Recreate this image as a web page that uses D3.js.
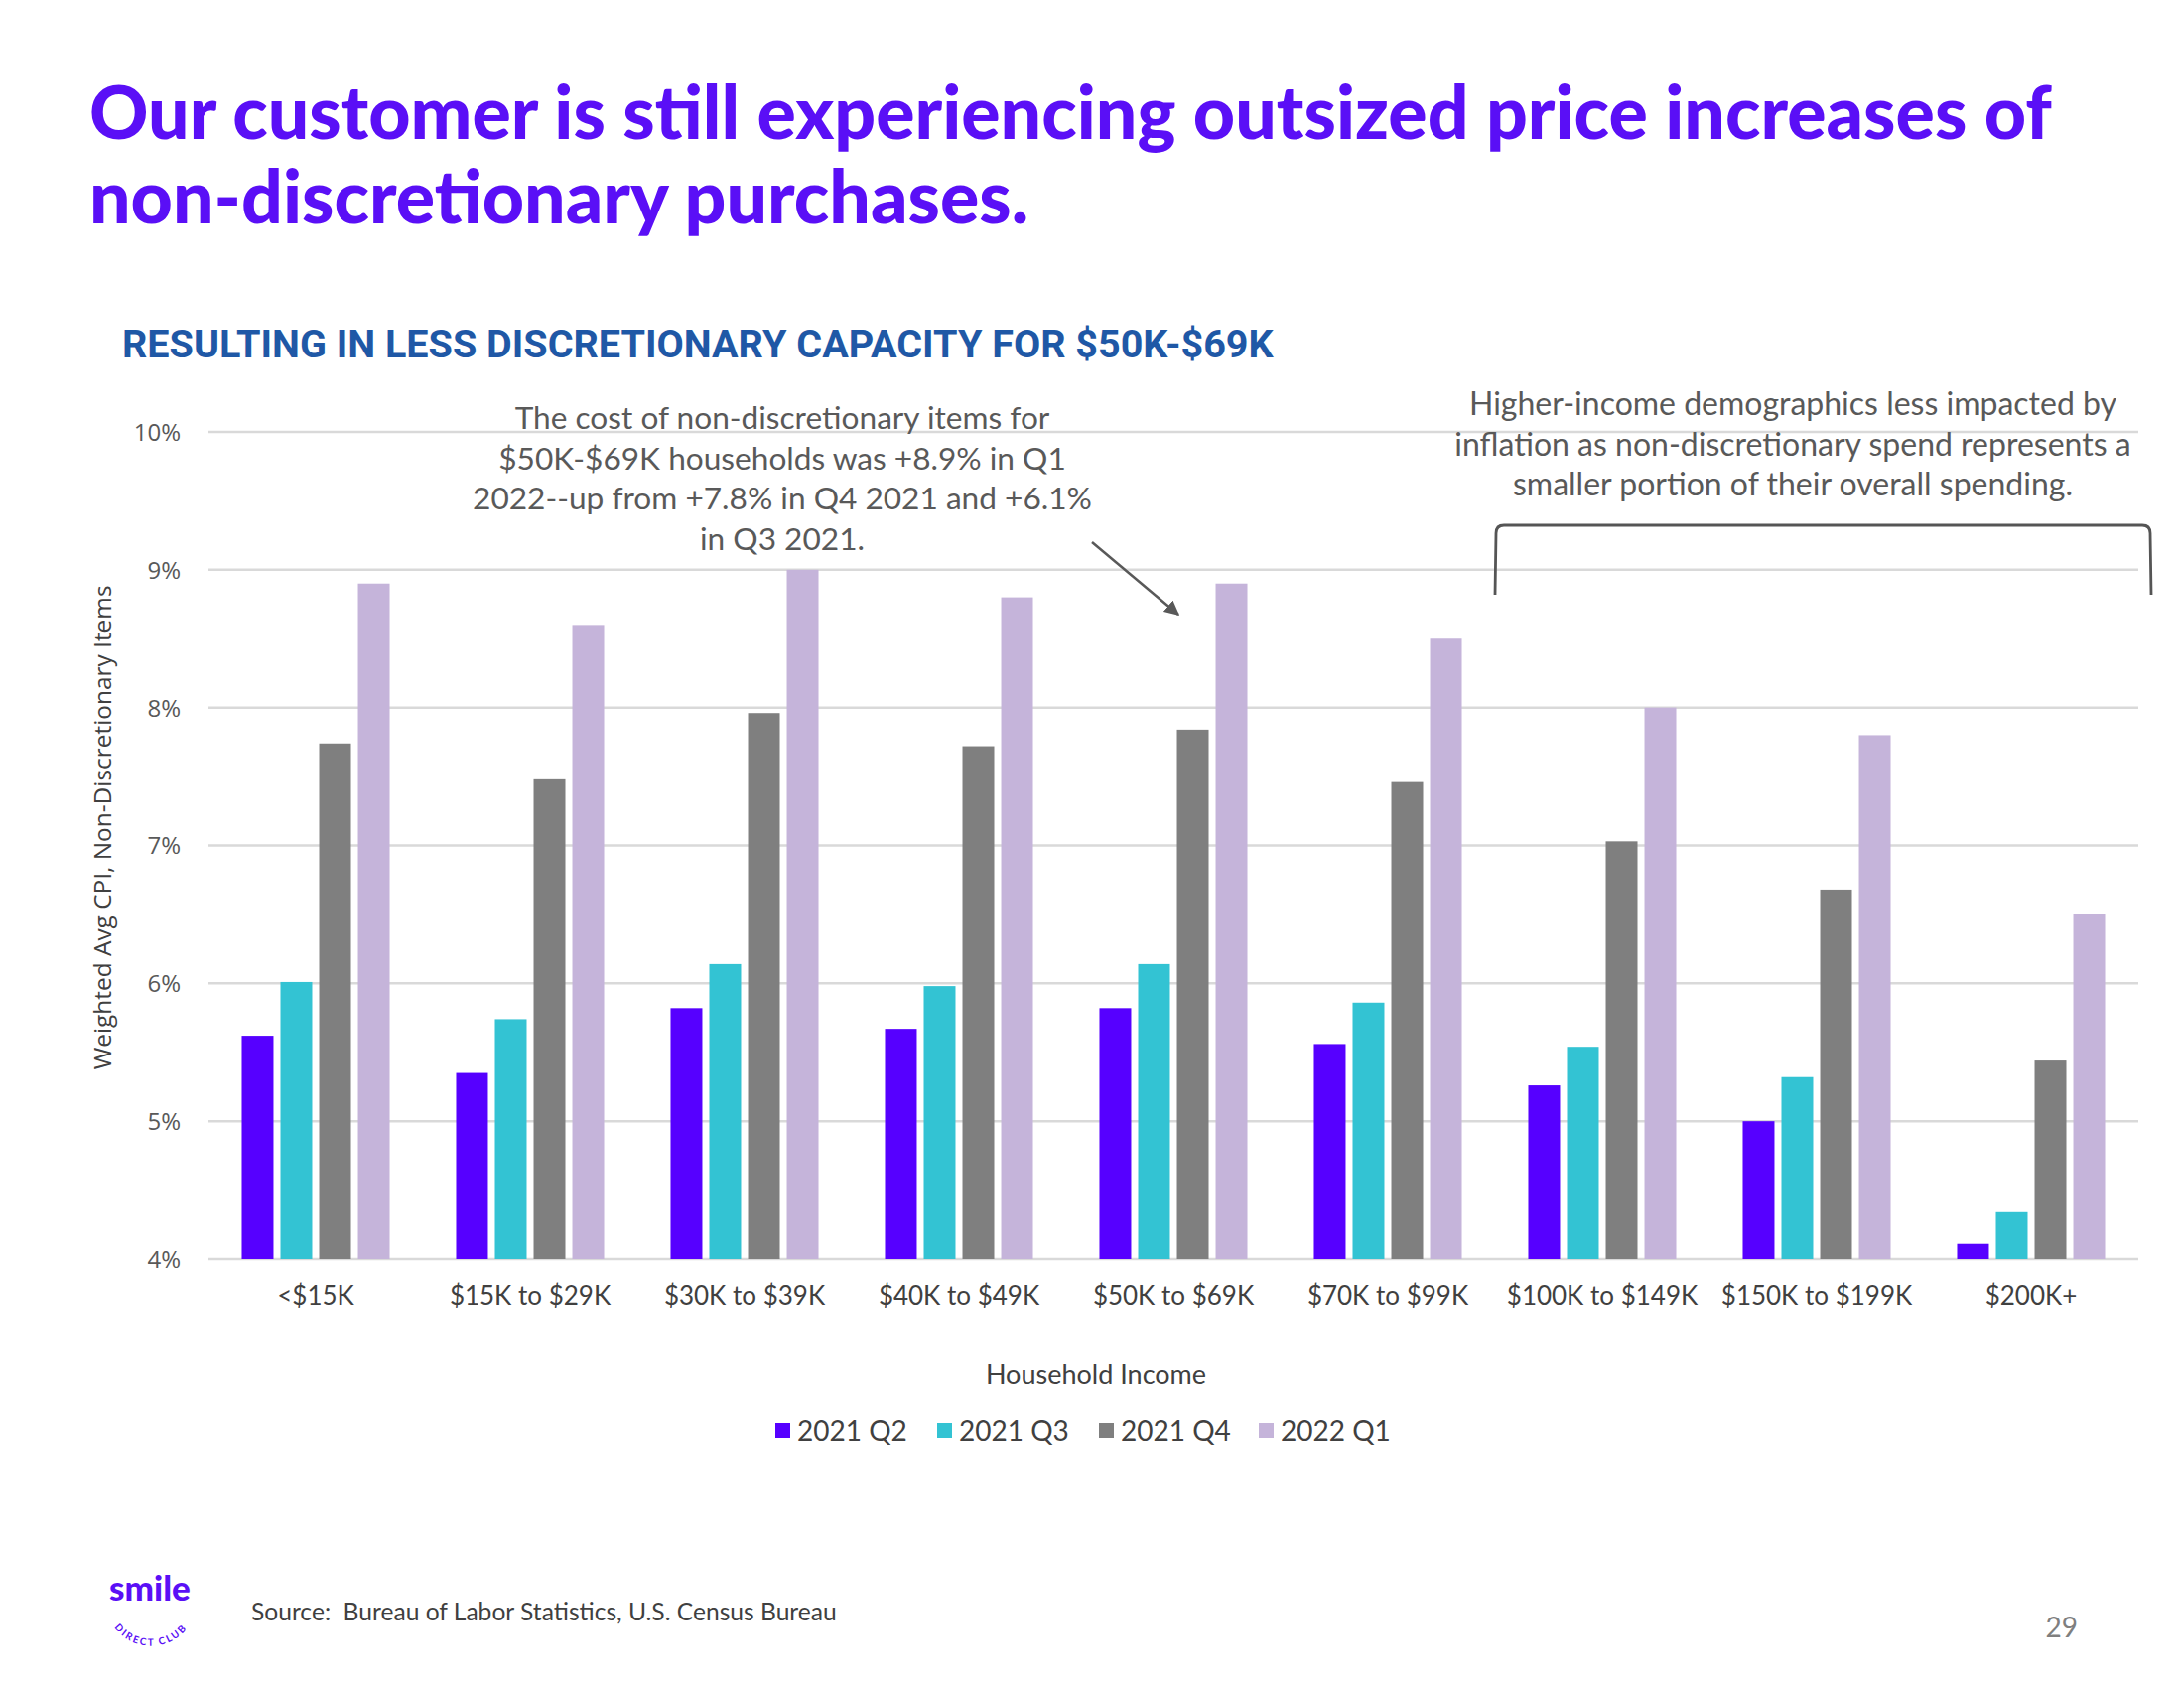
<!DOCTYPE html>
<html>
<head>
<meta charset="utf-8">
<script src="https://cdn.jsdelivr.net/npm/d3@7"></script>
<style>
  html, body { margin: 0; padding: 0; background: #ffffff; }
  svg { display: block; }
</style>
</head>
<body>
<svg id="chart" width="2200" height="1700"></svg>
<script>
// ---------- data ----------
const categories = ["<$15K", "$15K to $29K", "$30K to $39K", "$40K to $49K", "$50K to $69K",
                    "$70K to $99K", "$100K to $149K", "$150K to $199K", "$200K+"];
const seriesNames = ["2021 Q2", "2021 Q3", "2021 Q4", "2022 Q1"];
const q2_2021 = [5.62, 5.35, 5.82, 5.67, 5.82, 5.56, 5.26, 5.00, 4.11];
const q3_2021 = [6.01, 5.74, 6.14, 5.98, 6.14, 5.86, 5.54, 5.32, 4.34];
const q4_2021 = [7.74, 7.48, 7.96, 7.72, 7.84, 7.46, 7.03, 6.68, 5.44];
const q1_2022 = [8.90, 8.60, 9.00, 8.80, 8.90, 8.50, 8.00, 7.80, 6.50];
const yTicks = [4, 5, 6, 7, 8, 9, 10];
const seriesColors = ["#5600FF", "#33C3D3", "#7F7F7F", "#C5B4DA"];

const titleLines = ["Our customer is still experiencing outsized price increases of",
                    "non-discretionary purchases."];
const subtitle = "RESULTING IN LESS DISCRETIONARY CAPACITY FOR $50K-$69K";
const note1 = ["The cost of non-discretionary items for",
               "$50K-$69K households was +8.9% in Q1",
               "2022--up from +7.8% in Q4 2021 and +6.1%",
               "in Q3 2021."];
const note2 = ["Higher-income demographics less impacted by",
               "inflation as non-discretionary spend represents a",
               "smaller portion of their overall spending."];

const allSeries = [q2_2021, q3_2021, q4_2021, q1_2022];

// ---------- setup ----------
const svg = d3.select("#chart");
const plot = {left: 210, right: 2154, top: 435, bottom: 1268};

const x0 = d3.scaleBand().domain(categories).range([plot.left, plot.right])
  .paddingInner(0.31).paddingOuter(0.155);
const x1 = d3.scaleBand().domain(seriesNames).range([0, x0.bandwidth()]).paddingInner(0.18);
const y = d3.scaleLinear().domain([4, 10]).range([plot.bottom, plot.top]);

function fitText(sel, target) {
  const node = sel.node();
  const w = node.getComputedTextLength();
  const fs = parseFloat(sel.attr("font-size"));
  sel.attr("font-size", fs * target / w);
}

// ---------- title ----------
const titleFont = "Lato, 'Open Sans', sans-serif";
const t1 = svg.append("text").attr("x", 90).attr("y", 140)
  .attr("font-family", titleFont).attr("font-weight", 900).attr("font-size", 62)
  .attr("fill", "#5A0FF6").text(titleLines[0]);
fitText(t1, 1977);
const t2 = svg.append("text").attr("x", 90).attr("y", 225)
  .attr("font-family", titleFont).attr("font-weight", 900).attr("font-size", t1.attr("font-size"))
  .attr("fill", "#5A0FF6").text(titleLines[1]);

const st = svg.append("text").attr("x", 123).attr("y", 360)
  .attr("font-family", "Roboto, sans-serif").attr("font-weight", 700).attr("font-size", 34)
  .attr("fill", "#1F58A6").text(subtitle);
fitText(st, 1160);

// ---------- gridlines & y axis ----------
const grid = svg.append("g");
grid.selectAll("line").data(yTicks).join("line")
  .attr("x1", plot.left).attr("x2", plot.right)
  .attr("y1", d => y(d)).attr("y2", d => y(d))
  .attr("stroke", "#D9D9D9").attr("stroke-width", 2.5);

const yAxis = d3.axisLeft(y).tickValues(yTicks).tickSize(0).tickPadding(0)
  .tickFormat(d => d + "%");
const yg = svg.append("g").attr("transform", `translate(182,0)`).call(yAxis);
yg.select(".domain").remove();
yg.selectAll("text").attr("font-family", "'Open Sans', sans-serif").attr("font-size", 24)
  .attr("fill", "#595959").attr("dy", "0.35em");

const yTitle = svg.append("text")
  .attr("transform", `translate(112,${(420 + 768) / 2 * 1.403}) rotate(-90)`)
  .attr("text-anchor", "middle")
  .attr("font-family", "'Open Sans', sans-serif").attr("font-size", 21)
  .attr("fill", "#404040").text("Weighted Avg CPI, Non-Discretionary Items");
fitText(yTitle, 488);

// ---------- bars ----------
const rows = categories.map((c, i) => ({cat: c, vals: seriesNames.map((s, j) => ({s, v: allSeries[j][i], j}))}));
const groups = svg.append("g").selectAll("g").data(rows).join("g")
  .attr("transform", d => `translate(${x0(d.cat)},0)`);
groups.selectAll("rect").data(d => d.vals).join("rect")
  .attr("x", d => x1(d.s)).attr("width", x1.bandwidth())
  .attr("y", d => y(d.v)).attr("height", d => y(4) - y(d.v))
  .attr("fill", d => seriesColors[d.j]);

// ---------- x axis ----------
const xAxis = d3.axisBottom(x0).tickSize(0).tickPadding(0);
const xg = svg.append("g").attr("transform", `translate(0,${plot.bottom})`).call(xAxis);
xg.select(".domain").remove();
xg.selectAll("text").attr("font-family", "Lato, sans-serif").attr("font-size", 26)
  .attr("fill", "#404040").attr("dy", "0").attr("y", 46);

svg.append("text").attr("x", 1104).attr("y", 1394).attr("text-anchor", "middle")
  .attr("font-family", "Lato, sans-serif").attr("font-size", 27).attr("fill", "#404040")
  .text("Household Income");

// ---------- legend ----------
const legendX = [781, 944, 1107, 1268];
const lg = svg.append("g").selectAll("g").data(seriesNames).join("g")
  .attr("transform", (d, i) => `translate(${legendX[i]},1441)`);
lg.append("rect").attr("x", 0).attr("y", -8).attr("width", 15).attr("height", 15)
  .attr("fill", (d, i) => seriesColors[i]);
lg.append("text").attr("x", 22).attr("y", 0).attr("dy", "0.35em")
  .attr("font-family", "Lato, sans-serif").attr("font-size", 28).attr("fill", "#404040")
  .text(d => d);

// ---------- annotations ----------
function noteBlock(lines, cx, cy0, longestIdx, targetW) {
  const g = svg.append("g");
  const texts = lines.map((line, i) => g.append("text").attr("x", cx).attr("y", cy0 + i * 40.5)
    .attr("dy", "0.35em").attr("text-anchor", "middle").attr("font-family", "Lato, sans-serif")
    .attr("font-size", 29).attr("fill", "#595959").text(line));
  const w = texts[longestIdx].node().getComputedTextLength();
  const fs = Math.min(32, 29 * targetW / w);
  texts.forEach(t => t.attr("font-size", fs));
}
noteBlock(note1, 788, 421, 2, 624);
noteBlock(note2, 1806, 407, 1, 712);

svg.append("defs").append("marker").attr("id", "arrow")
  .attr("viewBox", "0 0 10 10").attr("refX", 9).attr("refY", 5)
  .attr("markerWidth", 6).attr("markerHeight", 6).attr("orient", "auto")
  .append("path").attr("d", "M0,0 L10,5 L0,10 z").attr("fill", "#595959");
svg.append("line").attr("x1", 1100).attr("y1", 546).attr("x2", 1187).attr("y2", 619)
  .attr("stroke", "#595959").attr("stroke-width", 2.5).attr("marker-end", "url(#arrow)");

// bracket
svg.append("path")
  .attr("d", "M1506,599 L1507,537 Q1507,529 1515,529 L2158,529 Q2166,529 2166,537 L2167,599")
  .attr("fill", "none").attr("stroke", "#555555").attr("stroke-width", 2.8);

// ---------- footer ----------
const src = svg.append("text").attr("x", 253).attr("y", 1623).attr("dy", "0.35em")
  .attr("font-family", "Lato, sans-serif").attr("font-size", 22).attr("fill", "#404040")
  .attr("xml:space", "preserve")
  .text("Source:  Bureau of Labor Statistics, U.S. Census Bureau");
fitText(src, 590);
svg.append("text").attr("x", 2093).attr("y", 1639).attr("dy", "0.35em").attr("text-anchor", "end")
  .attr("font-family", "Lato, sans-serif").attr("font-size", 28).attr("fill", "#7F7F7F")
  .text("29");

// logo
const logo = svg.append("g");
logo.append("text").attr("x", 151).attr("y", 1612).attr("text-anchor", "middle")
  .attr("font-family", "Lato, sans-serif").attr("font-weight", 900).attr("font-size", 35)
  .attr("fill", "#5A0FF6").text("smile");
logo.append("defs").append("path").attr("id", "logoArc")
  .attr("d", "M108,1625 A46,46 0 0 0 196,1625");
logo.append("text").attr("font-family", "Lato, sans-serif").attr("font-weight", 700)
  .attr("font-size", 10).attr("letter-spacing", 2).attr("fill", "#5A0FF6")
  .append("textPath").attr("href", "#logoArc").attr("startOffset", "50%")
  .attr("text-anchor", "middle").text("DIRECT CLUB");
</script>
</body>
</html>
